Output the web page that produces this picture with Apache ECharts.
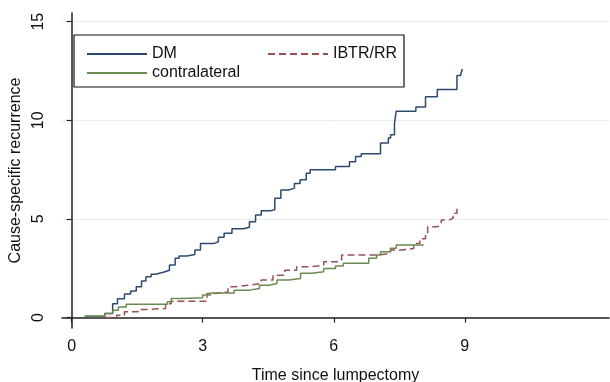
<!DOCTYPE html>
<html>
<head>
<meta charset="utf-8">
<title>Cause-specific recurrence</title>
<script src="https://cdn.jsdelivr.net/npm/echarts@6.0.0/dist/echarts.min.js"></script>
<style>
  html, body { margin: 0; padding: 0; background: #fff; }
  #chart { width: 610px; height: 382px; }
</style>
</head>
<body>
<div id="chart"></div>
<script>
// (time in years, recurrence in %)
const dmTime = [0.30, 0.76, 0.94, 1.05, 1.21, 1.35, 1.48, 1.60, 1.70, 1.82, 1.92, 2.10, 2.24, 2.37, 2.46, 2.64, 2.82, 2.95, 3.27, 3.36, 3.49, 3.67, 3.94, 4.07, 4.21, 4.34, 4.56, 4.65, 4.79, 4.97, 5.10, 5.23, 5.37, 5.46, 6.04, 6.36, 6.50, 6.63, 7.07, 7.25, 7.30, 7.39, 7.43, 7.88, 8.10, 8.37, 8.82, 8.90, 8.94]
const dmValue = [0.07, 0.20, 0.70, 0.95, 1.20, 1.35, 1.56, 1.85, 2.07, 2.20, 2.30, 2.40, 2.66, 3.00, 3.12, 3.20, 3.42, 3.76, 3.85, 4.07, 4.27, 4.50, 4.58, 4.86, 5.20, 5.42, 5.46, 6.05, 6.47, 6.56, 6.80, 6.98, 7.32, 7.49, 7.66, 7.90, 8.17, 8.30, 8.85, 9.10, 9.27, 9.86, 10.46, 10.68, 11.19, 11.56, 12.27, 12.30, 12.60]

const contraTime = [0.30, 0.76, 0.94, 1.07, 1.25, 2.19, 2.28, 2.55, 3.00, 3.18, 3.72, 4.07, 4.30, 4.52, 4.70, 4.97, 5.24, 5.50, 5.77, 6.04, 6.22, 6.80, 6.98, 7.07, 7.30, 7.43, 8.06]
const contraValue = [0.07, 0.20, 0.37, 0.54, 0.68, 0.80, 0.97, 1.00, 1.14, 1.25, 1.39, 1.47, 1.64, 1.73, 1.90, 1.98, 2.24, 2.32, 2.49, 2.61, 2.75, 3.00, 3.17, 3.34, 3.51, 3.68, 3.68]

const ibtrTime = [0.76, 1.03, 1.21, 1.52, 1.75, 2.15, 2.28, 3.10, 3.30, 3.58, 3.72, 4.07, 4.34, 4.61, 4.88, 5.15, 5.50, 5.77, 6.13, 6.18, 7.00, 7.30, 7.56, 7.83, 7.97, 8.10, 8.15, 8.37, 8.46, 8.64, 8.73, 8.82, 8.85]
const ibtrValue = [0.00, 0.12, 0.29, 0.41, 0.46, 0.70, 0.83, 1.22, 1.30, 1.56, 1.64, 1.73, 1.90, 2.15, 2.40, 2.58, 2.66, 2.83, 2.92, 3.17, 3.25, 3.42, 3.50, 3.76, 4.00, 4.27, 4.60, 4.70, 4.95, 5.03, 5.29, 5.46, 5.66]

const xTicks = [0, 3, 6, 9]
const yTicks = [0, 5, 10, 15]

const font = "'Liberation Sans', Arial, sans-serif"

function pairs(xs, ys) {
  return xs.map((x, i) => [x, ys[i]])
}

const chart = echarts.init(document.getElementById('chart'))

chart.setOption({
  backgroundColor: '#fff',
  animation: false,
  grid: { left: 62, right: 1, top: 13, bottom: 54, outerBoundsMode: 'none' },
  graphic: [{
    type: 'rect',
    z: 5,
    shape: { x: 74, y: 35, width: 330, height: 52 },
    style: { fill: '#fff', stroke: '#111', lineWidth: 1.2 }
  }],
  legend: [{
    z: 10,
    orient: 'vertical',
    left: 81,
    top: 41,
    itemWidth: 60,
    itemHeight: 14,
    itemGap: 3,
    itemStyle: { opacity: 0 },
    textStyle: { fontFamily: font, fontSize: 16, color: '#111' },
    data: ['DM', 'contralateral']
  }, {
    z: 10,
    left: 262,
    top: 41,
    itemWidth: 60,
    itemHeight: 14,
    itemStyle: { opacity: 0 },
    textStyle: { fontFamily: font, fontSize: 16, color: '#111' },
    data: ['IBTR/RR']
  }],
  xAxis: {
    type: 'value',
    min: -0.22,
    max: 12.3,
    name: 'Time since lumpectomy',
    nameLocation: 'middle',
    nameGap: 40,
    nameTextStyle: { fontFamily: font, fontSize: 16, color: '#111' },
    axisLine: { show: true, lineStyle: { color: '#222', width: 1.5 } },
    axisTick: { show: true, length: 5, customValues: xTicks, lineStyle: { color: '#222', width: 1.2 } },
    axisLabel: { customValues: xTicks, margin: 11, fontFamily: font, fontSize: 16, color: '#111' },
    splitLine: { show: false }
  },
  yAxis: {
    type: 'value',
    min: -0.53,
    max: 15.44,
    name: 'Cause-specific recurrence',
    nameLocation: 'middle',
    nameGap: 38,
    nameTextStyle: { fontFamily: font, fontSize: 16, color: '#111' },
    axisLine: { show: true, lineStyle: { color: '#222', width: 1.5 } },
    axisTick: { show: true, length: 5, customValues: yTicks, lineStyle: { color: '#222', width: 1.2 } },
    axisLabel: { customValues: yTicks, rotate: 90, margin: 15, fontFamily: font, fontSize: 16, color: '#111' },
    splitLine: { show: true, lineStyle: { color: '#e6eef0', width: 1 } }
  },
  series: [{
    name: 'DM',
    type: 'line',
    step: 'end',
    symbol: 'none',
    lineStyle: { color: '#2c4a6e', width: 1.5 },
    itemStyle: { color: '#2c4a6e' },
    data: pairs(dmTime, dmValue)
  }, {
    name: 'IBTR/RR',
    type: 'line',
    step: 'end',
    symbol: 'none',
    lineStyle: { color: '#985056', width: 1.5, type: [7, 4] },
    itemStyle: { color: '#985056' },
    data: pairs(ibtrTime, ibtrValue)
  }, {
    name: 'contralateral',
    type: 'line',
    step: 'end',
    symbol: 'none',
    lineStyle: { color: '#6a8a4f', width: 1.5 },
    itemStyle: { color: '#6a8a4f' },
    data: pairs(contraTime, contraValue)
  }]
})
</script>
</body>
</html>
